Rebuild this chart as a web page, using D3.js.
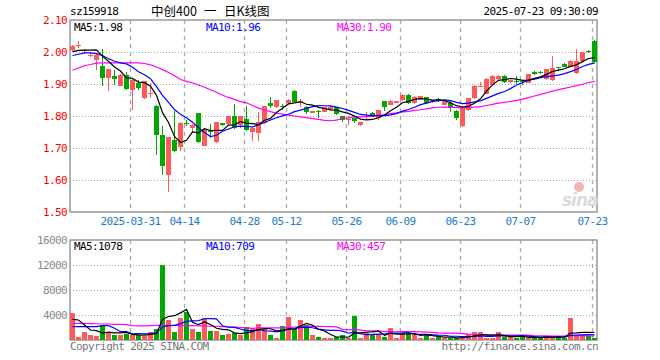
<!DOCTYPE html>
<html lang="zh">
<head>
	<meta charset="utf-8">
	<title>中创400 日K线图</title>
	<script src="https://d3js.org/d3.v7.min.js" charset="utf-8"></script>
	<style>
		body { margin: 0; background: #fff; }
		text {
			font-family: "DejaVu Sans Mono", monospace;
			font-size: 11px;
			letter-spacing: -0.6px;
		}
		.cjk {
			font-family: "Noto Sans CJK SC", sans-serif;
			font-size: 12.5px;
			letter-spacing: 0;
		}
	</style>
</head>
<body>
<div id="chart"></div>
<script>
	// trading days shown (2025)
	var dates = [
		"03-17","03-18","03-19","03-20","03-21","03-24","03-25","03-26","03-27","03-28",
		"03-31","04-01","04-02","04-03","04-07","04-08","04-09","04-10","04-11","04-14",
		"04-15","04-16","04-17","04-18","04-21","04-22","04-23","04-24","04-25","04-28",
		"04-29","04-30","05-06","05-07","05-08","05-09","05-12","05-13","05-14","05-15",
		"05-16","05-19","05-20","05-21","05-22","05-23","05-26","05-27","05-28","05-29",
		"05-30","06-03","06-04","06-05","06-06","06-09","06-10","06-11","06-12","06-13",
		"06-16","06-17","06-18","06-19","06-20","06-23","06-24","06-25","06-26","06-27",
		"06-30","07-01","07-02","07-03","07-04","07-07","07-08","07-09","07-10","07-11",
		"07-14","07-15","07-16","07-17","07-18","07-21","07-22","07-23"
	];

	var open = [
		2.005,2.022,2.003,1.989,1.974,1.955,1.919,1.924,1.895,1.929,
		1.880,1.903,1.856,1.869,1.832,1.742,1.615,1.726,1.703,1.779,
		1.762,1.808,1.706,1.754,1.719,1.777,1.774,1.800,1.771,1.790,
		1.750,1.748,1.778,1.842,1.827,1.832,1.840,1.878,1.846,1.829,
		1.809,1.816,1.813,1.820,1.827,1.799,1.789,1.794,1.771,1.789,
		1.810,1.794,1.846,1.835,1.841,1.849,1.867,1.840,1.853,1.858,
		1.843,1.854,1.835,1.840,1.815,1.770,1.818,1.856,1.892,1.870,
		1.898,1.916,1.926,1.905,1.910,1.909,1.903,1.939,1.938,1.916,
		1.912,1.953,1.964,1.953,1.934,1.971,2.004,2.035
	];
	var high = [
		2.022,2.033,2.010,1.997,1.994,2.009,1.948,1.943,1.930,1.937,
		1.916,1.913,1.910,1.903,1.833,1.768,1.734,1.815,1.780,1.787,
		1.776,1.809,1.762,1.776,1.781,1.778,1.801,1.837,1.801,1.830,
		1.765,1.811,1.831,1.858,1.850,1.836,1.852,1.882,1.854,1.830,
		1.817,1.820,1.828,1.832,1.828,1.800,1.799,1.795,1.782,1.814,
		1.811,1.819,1.847,1.849,1.847,1.868,1.868,1.864,1.863,1.859,
		1.850,1.855,1.847,1.846,1.820,1.830,1.857,1.896,1.906,1.920,
		1.927,1.927,1.927,1.914,1.924,1.912,1.932,1.940,1.941,1.948,
		1.988,1.954,1.965,1.974,2.010,2.000,2.005,2.037
	];
	var low = [
		2.002,2.012,1.998,1.985,1.943,1.893,1.877,1.898,1.893,1.882,
		1.820,1.882,1.852,1.855,1.679,1.617,1.561,1.687,1.690,1.768,
		1.747,1.715,1.705,1.732,1.715,1.770,1.773,1.759,1.761,1.753,
		1.722,1.722,1.775,1.824,1.825,1.820,1.838,1.843,1.828,1.806,
		1.808,1.795,1.811,1.818,1.804,1.780,1.771,1.778,1.768,1.787,
		1.796,1.789,1.815,1.834,1.840,1.848,1.838,1.838,1.851,1.838,
		1.842,1.844,1.834,1.811,1.787,1.765,1.816,1.854,1.891,1.869,
		1.897,1.912,1.904,1.904,1.900,1.898,1.902,1.929,1.930,1.914,
		1.910,1.940,1.952,1.952,1.932,1.970,1.998,1.966
	];
	var close = [
		2.020,2.023,2.006,1.991,1.992,1.919,1.947,1.917,1.928,1.884,
		1.914,1.887,1.908,1.872,1.742,1.643,1.733,1.690,1.778,1.776,
		1.773,1.718,1.757,1.749,1.780,1.772,1.800,1.761,1.800,1.757,
		1.764,1.782,1.830,1.830,1.849,1.829,1.851,1.845,1.848,1.811,
		1.816,1.815,1.827,1.827,1.806,1.789,1.791,1.785,1.781,1.792,
		1.797,1.818,1.828,1.848,1.846,1.867,1.840,1.858,1.861,1.840,
		1.849,1.846,1.846,1.825,1.795,1.829,1.856,1.895,1.894,1.916,
		1.926,1.926,1.905,1.913,1.907,1.905,1.931,1.932,1.936,1.947,
		1.950,1.952,1.953,1.973,1.973,1.999,2.000,1.968
	];
	var volume = [
		4320,430,1280,800,640,2350,1170,800,800,960,
		800,750,640,1280,1700,12000,3200,1280,3520,4500,
		1700,1280,3520,1440,1440,800,960,1070,850,2030,
		1810,2560,1810,800,370,2240,3680,1700,3200,2400,
		800,530,370,270,430,800,320,3840,320,1070,
		960,960,480,1920,320,1070,1070,850,320,960,
		320,430,320,370,320,430,960,1230,1230,270,
		270,1230,430,430,320,590,270,430,320,690,
		370,690,320,3500,800,850,600,250
	];

	// moving-average values for days whose window starts before the first bar
	var ma5Pre = [2.001,2.005,2.006,2.006];
	var ma10Pre = [1.989,1.993,1.997,1.997,1.995,1.989,1.979,1.971,1.966];
	var ma30Pre = [1.943,1.950,1.957,1.961,1.965,1.966,1.966,1.966,1.966,1.966,
		1.966,1.966,1.964,1.960,1.953,1.945,1.936,1.926,1.914,1.908,
		1.903,1.897,1.890,1.882,1.874,1.865,1.858,1.852,1.845];
	var volMa5Pre = [3300,3200,2400,1600];
	var volMa10Pre = [2130,2130,2130,2130,2130,2300,2300,1870,1330];
	var volMa30Pre = [2670,2670,2640,2620,2600,2560,2560,2500,2500,2450,
		2300,2250,2250,2300,2350,2350,2350,2350,2300,2300,
		2300,2250,2250,2200,2200,2150,2100,2050,2000];

	var priceTicks = [2.10, 2.00, 1.90, 1.80, 1.70, 1.60, 1.50];
	var volTicks = [16000, 12000, 8000, 4000];
	var tickDates = ["03-31","04-14","04-28","05-12","05-26","06-09","06-23","07-07","07-23"];
	var tickLabels = ["2025-03-31","04-14","04-28","05-12","05-26","06-09","06-23","07-07","07-23"];

	var priceLegend = ["MA5:1.98", "MA10:1.96", "MA30:1.90"];
	var volLegend = ["MA5:1078", "MA10:709", "MA30:457"];

	var w = 660, h = 360;
	var left = 70, right = 597;
	var pTop = 20, pBottom = 212;
	var vTop = 240, vBottom = 340;

	var upColor = "#ff5a5a", downColor = "#00a800";
	var maColors = ["#000000", "#0000ff", "#ff00ff"];
	var gridColor = "#aaaaaa";

	var svg = d3.select("#chart").append("svg")
		.attr("width", w)
		.attr("height", h);

	var x = d3.scaleBand()
		.domain(dates)
		.range([69, 597]);

	var y = d3.scaleLinear()
		.domain([1.50, 2.10])
		.range([pBottom, pTop]);

	var yv = d3.scaleLinear()
		.domain([0, 16000])
		.range([vBottom, vTop]);

	function movingAvg(values, n, pre) {
		return values.map(function(v, i) {
			if (i < n - 1) return pre[i];
			return d3.mean(values.slice(i - n + 1, i + 1));
		});
	}

	function cx(i) { return x(dates[i]) + 3.5; }

	// header
	svg.append("text").attr("x", 70).attr("y", 15).text("sz159918");
	svg.append("text").attr("class", "cjk").attr("x", 151).attr("y", 16).text("中创400");
	svg.append("text").attr("class", "cjk").attr("x", 204).attr("y", 16).text("一");
	svg.append("text").attr("class", "cjk").attr("x", 224).attr("y", 16).text("日K线图");
	svg.append("text").attr("x", 598).attr("y", 15).attr("text-anchor", "end")
		.text("2025-07-23 09:30:09");

	// grid for both panes
	function drawGrid(top, bottom, yScale, lines) {
		svg.selectAll(null)
			.data(lines)
			.enter().append("line")
			.attr("x1", left).attr("x2", right)
			.attr("y1", function(d) { return Math.round(yScale(d)) + 0.5; })
			.attr("y2", function(d) { return Math.round(yScale(d)) + 0.5; })
			.attr("stroke", gridColor)
			.attr("stroke-dasharray", "1,2");

		svg.selectAll(null)
			.data(tickDates)
			.enter().append("line")
			.attr("x1", function(d) { return x(d) + 1.5; })
			.attr("x2", function(d) { return x(d) + 1.5; })
			.attr("y1", top).attr("y2", bottom)
			.attr("stroke", gridColor)
			.attr("stroke-width", 1.3)
			.attr("stroke-dasharray", "4,4");

		svg.append("rect")
			.attr("x", left).attr("y", top)
			.attr("width", right - left).attr("height", bottom - top)
			.attr("fill", "none")
			.attr("stroke", "#999")
			.attr("stroke-width", 1.5);
	}

	drawGrid(pTop, pBottom, y, [2.00, 1.90, 1.80, 1.70, 1.60]);
	drawGrid(vTop, vBottom, yv, [12000, 8000, 4000]);

	// sina watermark
	svg.append("circle").attr("cx", 579).attr("cy", 187).attr("r", 5)
		.attr("fill", "#f3b4b4");
	svg.append("text").attr("x", 562).attr("y", 206)
		.style("font-family", "'DejaVu Sans', sans-serif")
		.style("font-size", "17px").style("font-style", "italic").style("font-weight", "bold")
		.style("letter-spacing", "-1px")
		.attr("fill", "#dcdcdc").text("sina");

	// price axis labels
	svg.selectAll(null)
		.data(priceTicks)
		.enter().append("text")
		.attr("x", 67)
		.attr("y", function(d) { return y(d) + 4; })
		.attr("text-anchor", "end")
		.attr("fill", "#ff0000")
		.text(function(d) { return d.toFixed(2); });

	// date labels
	svg.selectAll(null)
		.data(tickDates)
		.enter().append("text")
		.attr("x", function(d) { return x(d) + 1.5; })
		.attr("y", 225)
		.attr("text-anchor", "middle")
		.attr("fill", "#1a7ccc")
		.text(function(d, i) { return tickLabels[i]; });

	// volume axis labels
	svg.selectAll(null)
		.data(volTicks)
		.enter().append("text")
		.attr("x", 67)
		.attr("y", function(d) { return yv(d) + 4; })
		.attr("text-anchor", "end")
		.attr("fill", "#888")
		.text(function(d) { return d; });

	var idx = d3.range(dates.length);
	function isUp(i) { return close[i] >= open[i]; }

	// candles
	var candles = svg.append("g").attr("shape-rendering", "crispEdges");
	candles.selectAll("line")
		.data(idx)
		.enter().append("line")
		.attr("x1", cx).attr("x2", cx)
		.attr("y1", function(i) { return y(high[i]); })
		.attr("y2", function(i) { return y(low[i]); })
		.attr("stroke", function(i) { return isUp(i) ? upColor : downColor; });
	candles.selectAll("rect")
		.data(idx)
		.enter().append("rect")
		.attr("x", function(i) { return x(dates[i]) + 1; })
		.attr("width", 5)
		.attr("y", function(i) { return y(Math.max(open[i], close[i])); })
		.attr("height", function(i) { return Math.max(1, Math.abs(y(open[i]) - y(close[i]))); })
		.attr("fill", function(i) { return isUp(i) ? upColor : downColor; });

	// volume bars
	svg.append("g").attr("shape-rendering", "crispEdges")
		.selectAll("rect")
		.data(idx)
		.enter().append("rect")
		.attr("x", function(i) { return x(dates[i]) + 1; })
		.attr("width", 5)
		.attr("y", function(i) { return yv(volume[i]); })
		.attr("height", function(i) { return vBottom - yv(volume[i]); })
		.attr("fill", function(i) { return isUp(i) ? upColor : downColor; });

	// moving averages
	var priceMa = [movingAvg(close, 5, ma5Pre), movingAvg(close, 10, ma10Pre), movingAvg(close, 30, ma30Pre)];
	var volMa = [movingAvg(volume, 5, volMa5Pre), movingAvg(volume, 10, volMa10Pre), movingAvg(volume, 30, volMa30Pre)];

	function drawMa(series, yScale) {
		series.slice().reverse().forEach(function(s, k) {
			var c = maColors[series.length - 1 - k];
			svg.append("path")
				.datum(s)
				.attr("fill", "none")
				.attr("stroke", c)
				.attr("stroke-width", 1.2)
				.attr("d", d3.line()
					.x(function(d, i) { return cx(i); })
					.y(function(d) { return yScale(d); }));
		});
	}
	drawMa(priceMa, y);
	drawMa(volMa, yv);

	// legends
	var legendX = [74, 206, 337];
	svg.selectAll(null)
		.data(priceLegend)
		.enter().append("text")
		.attr("x", function(d, i) { return legendX[i]; })
		.attr("y", 31)
		.attr("fill", function(d, i) { return maColors[i]; })
		.text(function(d) { return d; });
	svg.selectAll(null)
		.data(volLegend)
		.enter().append("text")
		.attr("x", function(d, i) { return legendX[i]; })
		.attr("y", 250)
		.attr("fill", function(d, i) { return maColors[i]; })
		.text(function(d) { return d; });

	// footer
	svg.append("text").attr("x", 70).attr("y", 350).attr("fill", "#777")
		.text("Copyright 2025 SINA.COM");
	svg.append("text").attr("x", 598).attr("y", 350).attr("text-anchor", "end").attr("fill", "#777")
		.text("http://finance.sina.com.cn");
</script>
</body>
</html>
